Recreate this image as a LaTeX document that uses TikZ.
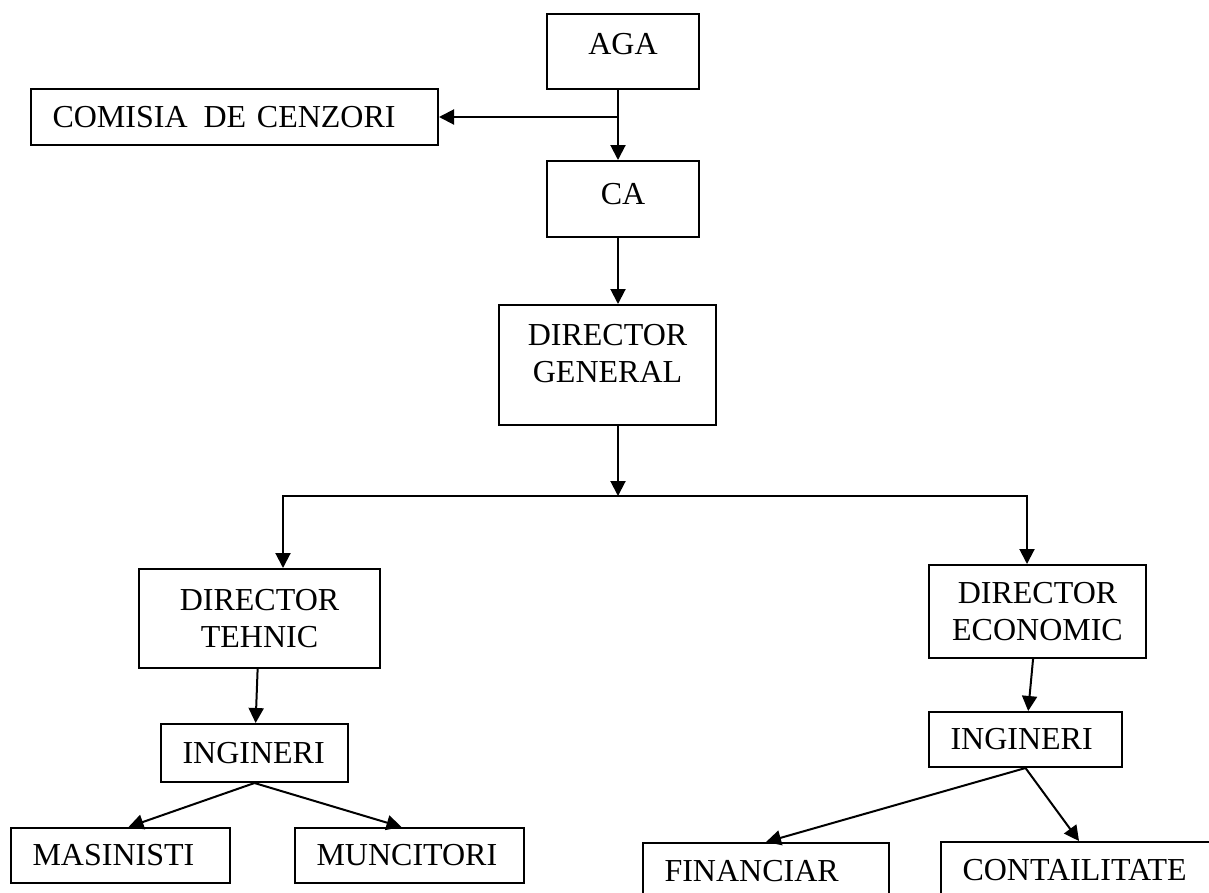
\documentclass[tikz,border=0pt]{standalone}
\usepackage{fontspec}
\setmainfont{Liberation Serif}
\usetikzlibrary{arrows.meta}
\definecolor{col_000000}{RGB}{0,0,0}

\begin{document}
\begin{tikzpicture}[x=1pt,y=-1pt,
  >={Triangle[length=15pt,width=15pt]},
  box/.style={draw=col_000000, line width=2pt, anchor=north west, inner xsep=21.5pt, inner ysep=0pt, font=\fontsize{32}{37}\selectfont},
  lbox/.style={box, align=left},
  cbox/.style={box, align=center},
  link/.style={col_000000, line width=2pt}]
\useasboundingbox (0,0) rectangle (1209,892);
\clip (0,0) rectangle (1209,892);
%% top of the chart
\node[cbox, minimum width=152pt, minimum height=75pt, text depth=16pt] (aga) at (546,13) {AGA};
\node[lbox, text width=364pt, minimum height=56pt] (comisia) at (30,88) {COMISIA\hspace{16pt}DE CENZORI};
\node[cbox, minimum width=152pt, minimum height=76pt, text depth=11pt] (ca) at (546,160) {CA};
\node[cbox, minimum width=217pt, minimum height=120pt, text depth=24pt] (dg) at (498,304) {DIRECTOR\\GENERAL};
%% directors
\node[cbox, minimum width=241pt, minimum height=99pt] (dt) at (138,568) {DIRECTOR\\TEHNIC};
\node[cbox, minimum width=217pt, minimum height=93pt] (de) at (928,564) {DIRECTOR\\ECONOMIC};
\node[lbox, text width=144pt, minimum height=58pt] (ingL) at (160,723) {INGINERI};
\node[lbox, text width=150pt, minimum height=55pt] (ingR) at (928,711) {INGINERI};
%% bottom row
\node[lbox, text width=176pt, minimum height=55pt] (mas) at (10,827) {MASINISTI};
\node[lbox, text width=186pt, minimum height=55pt] (mun) at (294,827) {MUNCITORI};
\node[lbox, text width=203pt, minimum height=56pt] (fin) at (642,842) {FINANCIAR};
\node[lbox, text width=233pt, minimum height=56pt] (con) at (940,841) {CONTAILITATE};
%% connectors
\coordinate (spine) at (618,0);
\coordinate (barL) at (283,496);
\coordinate (barR) at (1027,496);
\draw[link,->] (aga.south -| spine) -- (ca.north -| spine);
\draw[link,->] (spine |- comisia.east) -- (comisia.east);
\draw[link,->] (ca.south -| spine) -- (dg.north -| spine);
\draw[link,->] (dg.south -| spine) -- (spine |- barL);
\draw[link,<->] (barL |- dt.north) -- (barL) -- (barR) -- (barR |- de.north);
\draw[link,->] (dt) -- (ingL);
\draw[link,->] (de) -- (ingR);
\draw[link,->] (ingL.south) -- ([xshift=8pt]mas.north);
\draw[link,->] (ingL.south) -- ([xshift=-8pt]mun.north);
\draw[link,->] (ingR.south) -- (fin.north);
\draw[link,->] (ingR.south) -- (con.north);
\end{tikzpicture}
\end{document}
